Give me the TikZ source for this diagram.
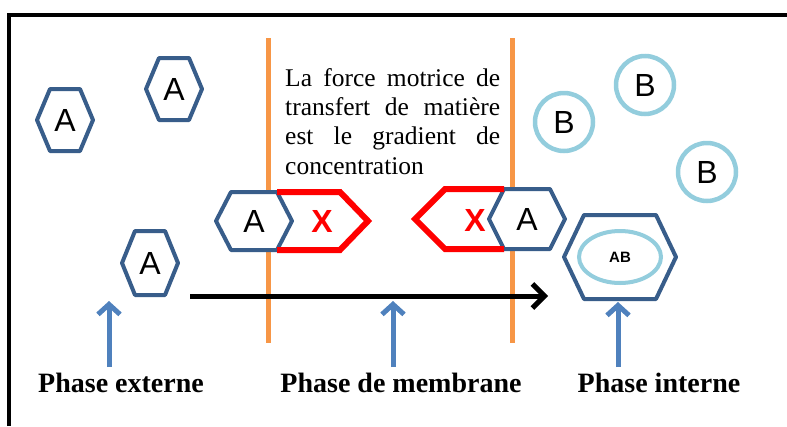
\documentclass[tikz,border=0pt]{standalone}
\usepackage{fontspec}
\setmainfont{Liberation Serif}
\newfontfamily\arialfont{Liberation Sans}
\usetikzlibrary{arrows.meta, shapes.geometric}
\definecolor{hexBlue}{HTML}{385D8A}
\definecolor{ringBlue}{HTML}{93CDDD}
\definecolor{wallOrange}{HTML}{F79646}
\definecolor{arrowBlue}{HTML}{4F81BD}
\newcommand{\lettersize}{\arialfont\fontsize{32}{36}\selectfont}

\begin{document}
\begin{tikzpicture}[x=1pt, y=-1pt,
      hexline/.style={draw=hexBlue, fill=white, line width=4pt, line join=round},
      pics/hexa/.style args={#1/#2/#3}{code={
        \draw[hexline] (-#1,0) -- (-#2,-#3) -- (#2,-#3) -- (#1,0) -- (#2,#3) -- (-#2,#3) -- cycle;}},
      letter/.style={font=\lettersize, inner sep=0pt},
      xmark/.style={font=\lettersize\bfseries, text=red, inner sep=0pt},
      redx/.style={draw=red, line width=6pt},
      ring/.style={circle, draw=ringBlue, line width=4.5pt, minimum size=58pt, inner sep=0pt, font=\lettersize},
      wall/.style={wallOrange, line width=5pt},
      phase/.style={font=\bfseries\fontsize{28}{32}\selectfont, inner sep=0pt, anchor=base},
      uparr/.style={arrowBlue, line width=5pt, -{Straight Barb[length=10pt, width=22pt]}},
      flow/.style={line width=5pt, -{Straight Barb[length=12pt, width=24pt]}},
      note/.style={text width=215pt, align=justify, inner sep=0pt, anchor=north west,
                   font=\fontsize{25.5}{29.3}\selectfont, execute at begin node={\hyphenpenalty=10000\exhyphenpenalty=10000}}]
    \useasboundingbox (0,0) rectangle (787,426);
    % frame and membrane walls
    \draw[line width=3.5pt] (9,426) -- (9,15) -- (787,15);
    \draw[wall] (268,38) -- (268,343);
    \draw[wall] (512,38) -- (512,343);
    % hexagons
    \pic at (65,120) {hexa=28/15/31};
    \pic at (174,89) {hexa=28/15/31};
    \pic at (150,263) {hexa=28/15/32};
    \pic at (254,221) {hexa=38/23/29};
    \pic at (527,219) {hexa=38/23/30};
    \pic[line width=4.5pt] at (620,257) {hexa=56/36/42};
    \draw[redx] (277,192) -- (340,192) -- (368,221) -- (340,250) -- (277,250);
    \draw[redx] (504,189) -- (445,189) -- (415,219) -- (445,249) -- (504,249);
    % species
    \node[letter] (a1) at (65,120) {A};
    \node[letter] (a2) at (174,89) {A};
    \node[letter] (a3) at (150,263) {A};
    \node[letter] (a4) at (254,221) {A};
    \node[letter] (a5) at (527,219) {A};
    \node[xmark] (x1) at (322,221) {X};
    \node[xmark] (x2) at (475,220) {X};
    \node[ring] (b1) at (564,122) {B};
    \node[ring] (b2) at (645,85) {B};
    \node[ring] (b3) at (707,172) {B};
    \node[ellipse, draw=ringBlue, line width=4pt, minimum width=82pt, minimum height=52pt, inner sep=0pt,
          font=\arialfont\bfseries\fontsize{15}{18}\selectfont] (ab) at (620,257) {AB};
    % text
    \node[note] (force) at (285,68) {La force motrice de transfert de mati\`ere est le gradient de concentration};
    % transfer arrow
    \coordinate (flowStart) at (190,296);
    \coordinate (flowEnd) at (548,296);
    \draw[flow] (flowStart) -- (flowEnd);
    % phase labels
    \node[phase] (ext) at (121,392) {Phase externe};
    \node[phase] (mem) at (401,392) {Phase de membrane};
    \node[phase] (int) at (659,392) {Phase interne};
    \coordinate (extTip) at (109,301);
    \coordinate (memTip) at (393,301);
    \coordinate (intTip) at (618,302);
    \draw[uparr] (extTip |- 0,367) -- (extTip);
    \draw[uparr] (memTip |- 0,367) -- (memTip);
    \draw[uparr] (intTip |- 0,367) -- (intTip);
  \end{tikzpicture}
\end{document}
